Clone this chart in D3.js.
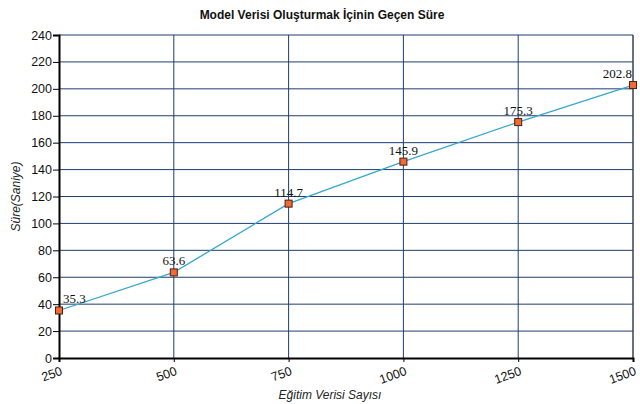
<!DOCTYPE html>
<meta charset="utf-8">
<style>
body { margin: 0; background: #fff; }
.title { font: bold 12px "Liberation Sans", Arial, sans-serif; fill: #111; }
.axis-title { font: italic 12px "Liberation Sans", Arial, sans-serif; fill: #222; }
.tick text { font: 12.5px "Liberation Sans", Arial, sans-serif; fill: #111; }
.grid line { stroke: #1f3d6e; stroke-width: 1; }
.value-label { font: 13px "Liberation Serif", "Times New Roman", serif; fill: #111; }
.series-line { fill: none; stroke: #35a7d1; stroke-width: 1.3; }
.point { fill: #f26a35; stroke: #4a2010; stroke-width: 1; }
</style>
<body>
<script src="https://cdn.jsdelivr.net/npm/d3@7"></script>
<script>

var samples = [250, 500, 750, 1000, 1250, 1500];
var seconds = [35.3, 63.6, 114.7, 145.9, 175.3, 202.8];
var xTicks = [250, 500, 750, 1000, 1250, 1500];
var yTicks = [0, 20, 40, 60, 80, 100, 120, 140, 160, 180, 200, 220, 240];

var width = 640,
    height = 404;
var margin = {top: 35, right: 7, bottom: 46, left: 59};
var innerW = width - margin.left - margin.right,
    innerH = height - margin.top - margin.bottom;

var svg = d3.select("body").append("svg")
    .attr("width", width)
    .attr("height", height);

var g = svg.append("g")
    .attr("transform", "translate(" + margin.left + "," + margin.top + ")");

var x = d3.scaleLinear().domain([250, 1500]).range([0, innerW]);
var y = d3.scaleLinear().domain([0, 240]).range([innerH, 0]);

// grid lines
g.append("g").attr("class", "grid")
  .selectAll("line").data(yTicks.slice(1))
  .enter().append("line")
    .attr("x1", 0).attr("x2", innerW)
    .attr("y1", function(d) { return y(d); })
    .attr("y2", function(d) { return y(d); });

g.append("g").attr("class", "grid")
  .selectAll("line").data(xTicks.slice(1))
  .enter().append("line")
    .attr("y1", 0).attr("y2", innerH)
    .attr("x1", function(d) { return x(d); })
    .attr("x2", function(d) { return x(d); });

// right border a bit lighter
g.append("line")
    .attr("x1", innerW).attr("x2", innerW)
    .attr("y1", 0).attr("y2", innerH)
    .attr("stroke", "#444").attr("stroke-width", 1);

// axes
var yAxis = g.append("g")
    .call(d3.axisLeft(y).tickValues(yTicks).tickSize(6).tickPadding(1));
yAxis.select(".domain").attr("stroke", "#000").attr("stroke-width", 2);
yAxis.selectAll(".tick line").attr("stroke", "#000");

var xAxis = g.append("g")
    .attr("transform", "translate(0," + innerH + ")")
    .call(d3.axisBottom(x).tickValues(xTicks).tickSize(4).tickFormat(d3.format("d")));
xAxis.select(".domain").attr("stroke", "#000").attr("stroke-width", 2);
xAxis.selectAll(".tick line").attr("stroke", "#000");
xAxis.selectAll(".tick text")
    .attr("text-anchor", "end")
    .attr("dy", "0.75em")
    .attr("transform", "translate(-2,1) rotate(-20)");

// line + points
var pts = samples.map(function(s, i) { return {x: s, y: seconds[i]}; });

g.append("path")
    .datum(pts)
    .attr("class", "series-line")
    .attr("d", d3.line().x(function(d) { return x(d.x); }).y(function(d) { return y(d.y); }));

g.selectAll("rect.point").data(pts)
  .enter().append("rect")
    .attr("class", "point")
    .attr("x", function(d) { return x(d.x) - 3.5; })
    .attr("y", function(d) { return y(d.y) - 3.5; })
    .attr("width", 7).attr("height", 7);

g.selectAll("text.value-label").data(pts)
  .enter().append("text")
    .attr("class", "value-label")
    .attr("x", function(d, i) {
      if (i == 0) return x(d.x) + 4;
      if (i == pts.length - 1) return x(d.x) - 1;
      return x(d.x);
    })
    .attr("y", function(d) { return y(d.y) - 7; })
    .attr("text-anchor", function(d, i) {
      if (i == 0) return "start";
      if (i == pts.length - 1) return "end";
      return "middle";
    })
    .text(function(d) { return d.y.toFixed(1); });

// titles
svg.append("text")
    .attr("class", "title")
    .attr("x", 322).attr("y", 19)
    .attr("text-anchor", "middle")
    .text("Model Verisi Oluşturmak İçinin Geçen Süre");

svg.append("text")
    .attr("class", "axis-title")
    .attr("x", 330).attr("y", 399)
    .attr("text-anchor", "middle")
    .text("Eğitim Verisi Sayısı");

svg.append("text")
    .attr("class", "axis-title")
    .attr("transform", "translate(20," + (margin.top + innerH / 2) + ") rotate(-90)")
    .attr("text-anchor", "middle")
    .text("Süre(Saniye)");

</script>
</body>
